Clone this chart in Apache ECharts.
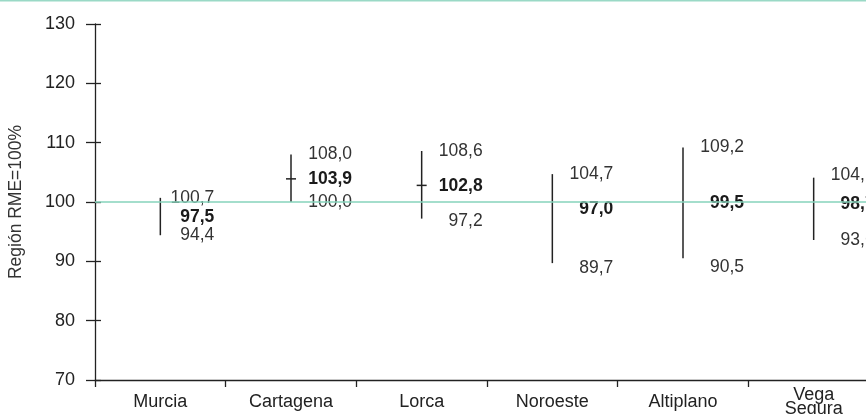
<!DOCTYPE html>
<html>
<head>
<meta charset="utf-8">
<script src="https://cdn.jsdelivr.net/npm/echarts@6/dist/echarts.min.js"></script>
<style>
  html, body { margin: 0; padding: 0; background: #fff; }
  #chart { width: 866px; height: 414px; }
</style>
</head>
<body>
<div id="chart"></div>
<script>
const categories = ['Murcia', 'Cartagena', 'Lorca', 'Noroeste', 'Altiplano', 'Vega\nSegura']
const lowValues = [94.4, 100.0, 97.2, 89.7, 90.5, 93.6]
const pointValues = [97.5, 103.9, 102.8, 97.0, 99.5, 98.7]
const highValues = [100.7, 108.0, 108.6, 104.7, 109.2, 104.1]
const pointTick = [0, 1, 1, 0, 0, 0]
const refValue = 100

const FONT = '"Liberation Sans", Arial, sans-serif'
// little hand nudges of the labels, as in the original picture
const dx = [-7, 0, 0, 0, 0, 0]
const dyHigh = [0, 0, 0, 0, 0, -3]
const dyPoint = [0, 0, 1, -11, -2, -6]
const dyLow = [0, 0, 3, 5, 9, 0]

const fmt = v => v.toFixed(1).replace('.', ',')

const seriesData = categories.map((c, i) => [i, lowValues[i], pointValues[i], highValues[i], pointTick[i]])

function renderItem(params, api) {
  const i = api.value(0)
  const x = api.coord([i, 0])[0]
  const yLow = api.coord([i, api.value(1)])[1]
  const yPoint = api.coord([i, api.value(2)])[1]
  const yHigh = api.coord([i, api.value(3)])[1]
  const lx = x + 61 + dx[i]
  const children = [
    {
      type: 'line',
      shape: { x1: x, y1: yLow, x2: x, y2: yHigh },
      style: { stroke: '#222', lineWidth: 1.5 }
    },
    {
      type: 'text', x: lx, y: yHigh + dyHigh[i],
      style: { text: fmt(api.value(3)), fill: '#333', font: '17.5px ' + FONT, align: 'right', verticalAlign: 'middle' }
    },
    {
      type: 'text', x: lx, y: yPoint + dyPoint[i],
      style: { text: fmt(api.value(2)), fill: '#1a1a1a', font: 'bold 17.5px ' + FONT, align: 'right', verticalAlign: 'middle' }
    },
    {
      type: 'text', x: lx, y: yLow + dyLow[i],
      style: { text: fmt(api.value(1)), fill: '#333', font: '17.5px ' + FONT, align: 'right', verticalAlign: 'middle' }
    }
  ]
  if (api.value(4)) {
    children.push({
      type: 'line',
      shape: { x1: x - 5, y1: yPoint, x2: x + 5, y2: yPoint },
      style: { stroke: '#222', lineWidth: 1.5 }
    })
  }
  return { type: 'group', children }
}

const chart = echarts.init(document.getElementById('chart'))
chart.setOption({
  animation: false,
  graphic: [
    { type: 'rect', left: 0, top: 0, shape: { width: 866, height: 1.5 }, style: { fill: '#9ad9c6' } }
  ],
  grid: { left: 95, top: 24, width: 784, height: 356, outerBoundsMode: 'none', containLabel: false },
  xAxis: {
    type: 'category',
    data: categories,
    boundaryGap: true,
    axisLine: { lineStyle: { color: '#222', width: 1.3 } },
    axisTick: { show: true, length: 7, lineStyle: { color: '#222', width: 1.3 } },
    axisLabel: {
      color: '#222', fontSize: 18, fontFamily: FONT,
      margin: 22, verticalAlign: 'middle', lineHeight: 14, interval: 0
    }
  },
  yAxis: [
    {
      type: 'value',
      min: 70, max: 130, interval: 10,
      name: 'Región RME=100%',
      nameLocation: 'middle',
      nameGap: 70,
      nameTextStyle: { color: '#333', fontSize: 17.5, fontFamily: FONT },
      axisLine: { show: true, lineStyle: { color: '#222', width: 1.3 } },
      axisTick: { show: true, length: 9, lineStyle: { color: '#222', width: 1.3 } },
      axisLabel: { color: '#222', fontSize: 18, fontFamily: FONT, margin: 20 },
      splitLine: { show: false }
    },
    {
      type: 'value',
      position: 'left',
      min: 70, max: 130, interval: 10,
      axisLine: { show: false },
      axisTick: { show: true, inside: true, length: 6, lineStyle: { color: '#222', width: 1.3 } },
      axisLabel: { show: false },
      splitLine: { show: false }
    }
  ],
  series: [
    {
      type: 'custom',
      renderItem,
      data: seriesData,
      encode: { x: 0, y: [1, 3] },
      markLine: {
        silent: true,
        symbol: 'none',
        label: { show: false },
        lineStyle: { color: '#86d3bb', width: 1.5, type: 'solid' },
        data: [{ yAxis: refValue }]
      }
    }
  ]
})
</script>
</body>
</html>
